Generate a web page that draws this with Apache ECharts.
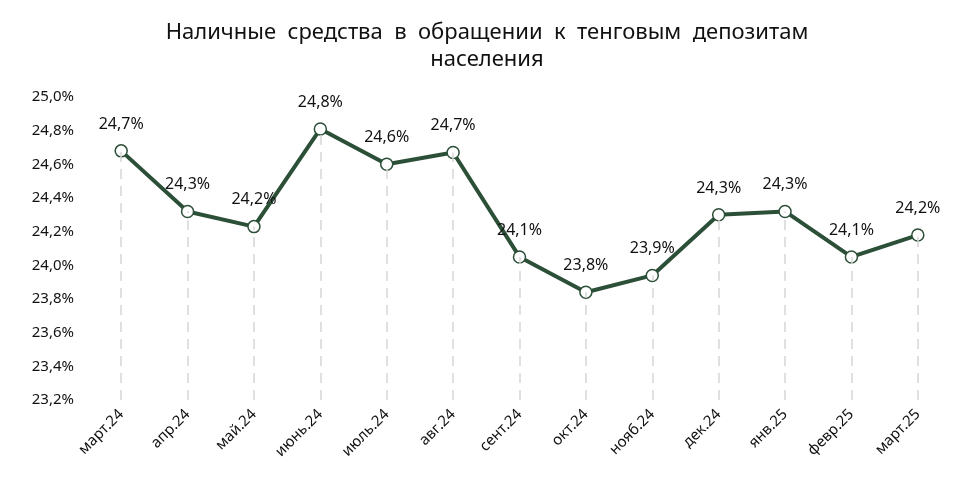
<!DOCTYPE html>
<html><head><meta charset="utf-8">
<script src="https://cdn.jsdelivr.net/npm/echarts@6/dist/echarts.min.js"></script>
<style>html,body{margin:0;padding:0;background:#fff}#main{width:974px;height:497px}</style>
</head><body><div id="main"></div>
<script>
var categories = ['март.24','апр.24','май.24','июнь.24','июль.24','авг.24','сент.24','окт.24','нояб.24','дек.24','янв.25','февр.25','март.25'];
var values = [24.68, 24.32, 24.23, 24.81, 24.60, 24.67, 24.05, 23.84, 23.94, 24.30, 24.32, 24.05, 24.18];
var yMin = 23.2, yMax = 25.0, yStep = 0.2;

var fmt = function(v, d){ return v.toFixed(d).replace('.', ',') + '%'; };
var dropLines = values.map(function(v, i){
    return [{coord:[i, yMin]}, {coord:[i, v]}];
});

var chart = echarts.init(document.getElementById('main'));
chart.setOption({
    animation: false,
    textStyle: {fontFamily: '"Noto Sans", sans-serif'},
    title: {
        text: 'Наличные  средства  в  обращении  к  тенговым  депозитам\nнаселения',
        left: 'center', top: 14,
        textStyle: {fontSize: 22, fontWeight: 'normal', color: '#111', lineHeight: 27}
    },
    grid: {left: 88, right: 23, top: 97, bottom: 97},
    xAxis: {
        type: 'category', data: categories,
        axisLine: {show: false}, axisTick: {show: false},
        axisLabel: {rotate: 45, fontSize: 15, color: '#111', margin: 12}
    },
    yAxis: {
        type: 'value', min: yMin, max: yMax, interval: yStep,
        axisLabel: {fontSize: 15, color: '#111', margin: 14, formatter: function(v){ return fmt(v, 1); }},
        splitLine: {show: false}
    },
    series: [{
        type: 'line', data: values,
        lineStyle: {color: '#2c4f38', width: 4},
        itemStyle: {color: '#fff', borderColor: '#2c4f38', borderWidth: 1.5},
        symbol: 'circle', symbolSize: 12,
        label: {show: true, position: 'top', distance: 12, fontSize: 16, color: '#111',
            formatter: function(p){ return fmt(p.value, 1); }},
        markLine: {
            silent: true, symbol: 'none', label: {show: false},
            lineStyle: {color: '#d6d6d6', type: [10, 7], width: 1.5},
            data: dropLines
        },
        z: 3
    }]
});
</script></body></html>
